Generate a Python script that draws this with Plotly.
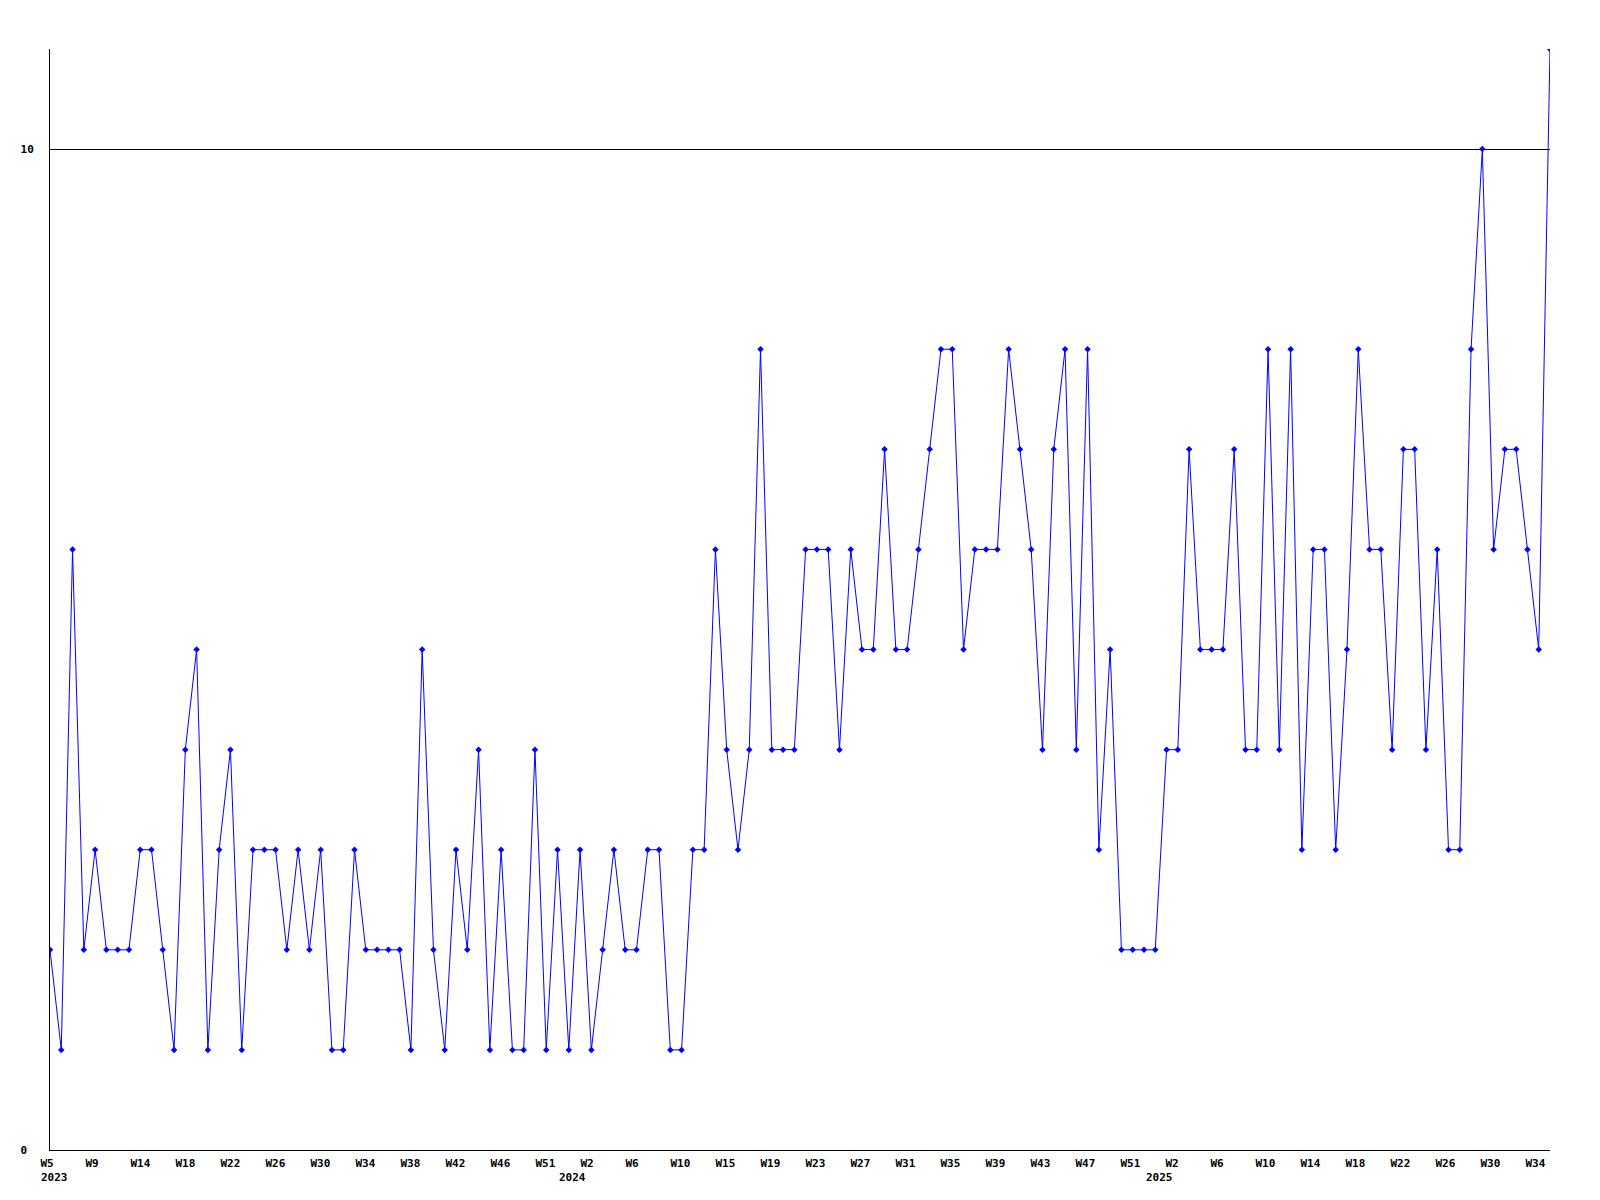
import plotly.graph_objects as go

# Weekly values, 2023 W5 .. 2025 W34 (134 weeks)
values = [2, 1, 6, 2, 3, 2, 2, 2, 3, 3, 2, 1, 4, 5, 1, 3, 4,
          1, 3, 3, 3, 2, 3, 2, 3, 1, 1, 3, 2, 2, 2, 2, 1,
          5, 2, 1, 3, 2, 4, 1, 3, 1, 1, 4, 1, 3, 1, 3, 1,
          2, 3, 2, 2, 3, 3, 1, 1, 3, 3, 6, 4, 3, 4, 8, 4, 4,
          4, 6, 6, 6, 4, 6, 5, 5, 7, 5, 5, 6, 7, 8, 8, 5,
          6, 6, 6, 8, 7, 6, 4, 7, 8, 4, 8, 3, 5, 2, 2, 2, 2,
          4, 4, 7, 5, 5, 5, 7, 4, 4, 8, 4, 8, 3, 6, 6, 3,
          5, 8, 6, 6, 4, 7, 7, 4, 6, 3, 3, 8, 10, 6, 7, 7, 6, 5,
          11]

# Week tick labels as printed under the axis
tick_labels = ["W5", "W9", "W14", "W18", "W22", "W26", "W30", "W34", "W38", "W42", "W46", "W51",
               "W2", "W6", "W10", "W15", "W19", "W23", "W27", "W31", "W35", "W39", "W43", "W47", "W51",
               "W2", "W6", "W10", "W14", "W18", "W22", "W26", "W30", "W34"]

# Year labels and the week index where each year starts
years = ["2023", "2024", "2025"]
year_start_index = [0, 48, 100]

y_ticks = [0, 10]

x = list(range(len(values)))
n_last = len(values) - 1
plot_w = 1500.0
px_per_week = plot_w / n_last
tick_pos = [45.0 * i / px_per_week for i in range(len(tick_labels))]

mono = dict(family="DejaVu Sans Mono", size=11, color="black", weight="bold")

fig = go.Figure()
fig.add_trace(go.Scatter(
    x=x, y=values, mode="lines+markers",
    line=dict(color="#0000FF", width=1),
    marker=dict(symbol="diamond", size=5, color="#0000FF"),
    showlegend=False, hoverinfo="skip",
))

annotations = []
for yr, idx in zip(years, year_start_index):
    shift = -11 if idx == 0 else -34
    annotations.append(dict(
        x=idx, y=0, xref="x", yref="paper", text=yr, showarrow=False,
        xanchor="left", yanchor="middle", xshift=shift, yshift=-27, font=mono,
    ))

# page body adds an 8px offset; margins compensate so the plot spans x 50-1550, y 49-1150
fig.update_layout(
    width=1600, height=1200,
    margin=dict(l=42, r=58, t=41, b=58, autoexpand=False),
    paper_bgcolor="white", plot_bgcolor="white",
    annotations=annotations,
    xaxis=dict(
        range=[0, n_last], showgrid=False, zeroline=False,
        showline=True, linecolor="black", linewidth=1,
        ticks="", tickvals=tick_pos, ticktext=tick_labels,
        ticklabelposition="outside right", ticklabelshift=-10,
        ticklabelstandoff=3, tickfont=mono, tickangle=0,
    ),
    yaxis=dict(
        range=[0, 11], showgrid=True, gridcolor="black", gridwidth=1,
        zeroline=False, showline=True, linecolor="black", linewidth=1,
        ticks="", tickvals=y_ticks,
        ticktext=[str(v) + "\u00a0" * (2 - len(str(v))) for v in y_ticks],
        ticklabelstandoff=13, tickfont=mono,
    ),
)

fig.write_html("out.html")
